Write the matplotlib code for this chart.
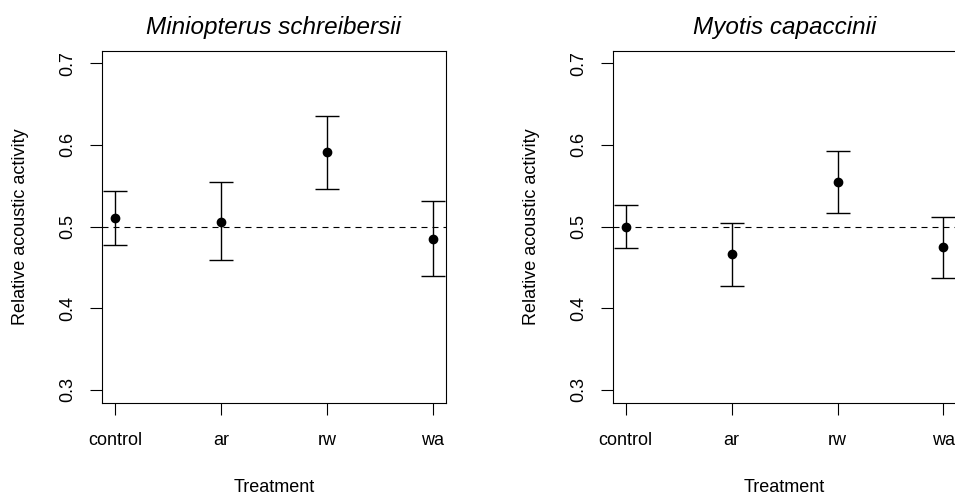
import numpy as np
import matplotlib
matplotlib.use("Agg")
import matplotlib.pyplot as plt

plt.rcParams['font.family'] = ['Liberation Sans', 'DejaVu Sans']

treatments = ["control", "ar", "rw", "wa"]

mini_mean = [0.511, 0.506, 0.591, 0.485]
mini_lower = [0.477, 0.459, 0.546, 0.439]
mini_upper = [0.543, 0.555, 0.636, 0.531]

myotis_mean = [0.500, 0.466, 0.555, 0.475]
myotis_lower = [0.474, 0.427, 0.517, 0.437]
myotis_upper = [0.526, 0.505, 0.592, 0.512]

titles = ["Miniopterus schreibersii", "Myotis capaccinii"]
y_ticks = [0.3, 0.4, 0.5, 0.6, 0.7]


def panel(ax, mean, lower, upper, title):
    x = np.arange(1, len(treatments) + 1)
    mean = np.array(mean)
    yerr = [mean - np.array(lower), np.array(upper) - mean]
    # reference line at 0.5
    ax.axhline(0.5, color='black', lw=0.8, dashes=(5.4, 4.5), zorder=1)
    ax.errorbar(x, mean, yerr=yerr, fmt='o', color='black', ms=6,
                elinewidth=1.0, capsize=8.5, capthick=1.0, zorder=3)
    ax.set_xlim(0.877, 4.125)
    ax.set_ylim(0.284, 0.715)
    ax.set_xticks(x)
    ax.set_xticklabels(treatments)
    ax.set_yticks(y_ticks)
    ax.set_yticklabels([str(t) for t in y_ticks])
    ax.tick_params(axis='both', length=8.4, width=0.8, labelsize=13, direction='out')
    ax.tick_params(axis='x', pad=12.5)
    ax.tick_params(axis='y', pad=10, labelrotation=90)
    for lab in ax.get_yticklabels():
        lab.set_va('center')
    for sp in ax.spines.values():
        sp.set_linewidth(0.8)
    ax.set_title(title, fontsize=17.5, style='italic', pad=12)
    ax.set_xlabel("Treatment", fontsize=13)
    ax.set_ylabel("Relative acoustic activity", fontsize=13)
    ax.xaxis.set_label_coords(0.5, -0.216)
    ax.yaxis.set_label_coords(-0.211, 0.5)


fig = plt.figure(figsize=(9.55, 4.96), dpi=100)
ax1 = fig.add_axes([0.1068, 0.1875, 0.3602, 0.7097])
ax2 = fig.add_axes([0.6416, 0.1875, 0.3602, 0.7097])

panel(ax1, mini_mean, mini_lower, mini_upper, titles[0])
panel(ax2, myotis_mean, myotis_lower, myotis_upper, titles[1])

fig.savefig("out.png", dpi=100)
